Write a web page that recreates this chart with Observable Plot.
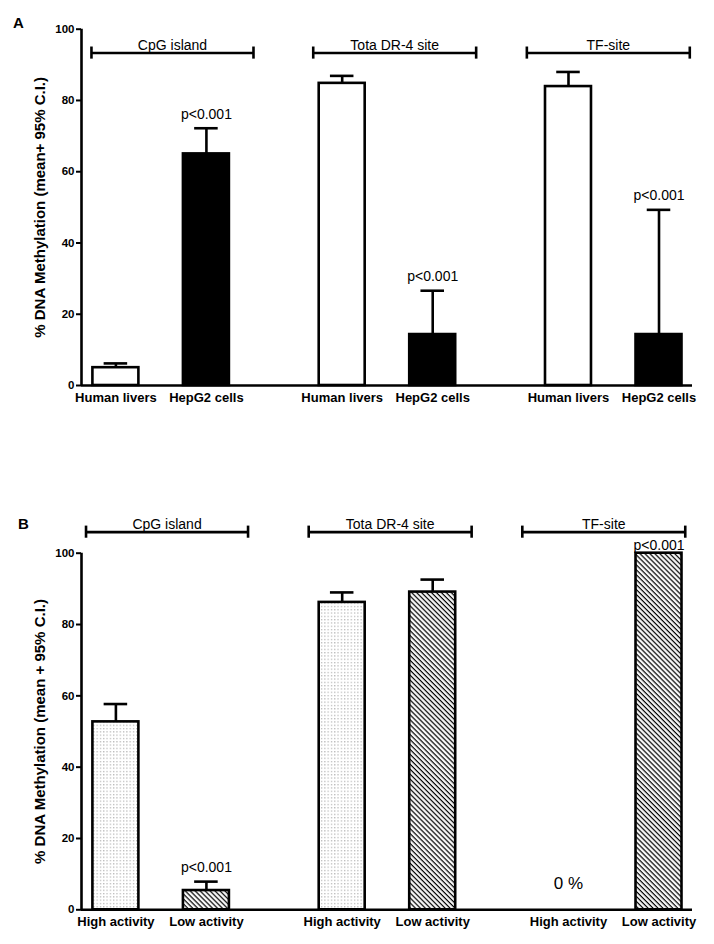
<!DOCTYPE html>
<html>
<head>
<meta charset="utf-8">
<script src="https://cdn.jsdelivr.net/npm/d3@7"></script>
<script src="https://cdn.jsdelivr.net/npm/@observablehq/plot@0.6"></script>
<style>
  body { margin: 0; background: #fff; font-family: "Liberation Sans", Arial, sans-serif; }
  #wrap { position: relative; width: 714px; height: 944px; overflow: hidden; }
  .panel { position: absolute; left: 0; }
  .letter { position: absolute; font-weight: bold; font-size: 15px; line-height: 1; color: #000; }
</style>
</head>
<body>
<div id="wrap">
  <div id="panelA" class="panel" style="top:0"></div>
  <div id="panelB" class="panel" style="top:440px"></div>
  <div class="letter" style="left:13px;top:15px">A</div>
  <div class="letter" style="left:18px;top:516px">B</div>
</div>
<script>
// ---------- Data ----------
const sites = ["CpG island", "Tota DR-4 site", "TF-site"];

// Panel A
const groupsA = ["Human livers", "HepG2 cells"];
const liversMean = [5.0, 84.8, 83.9];
const liversUpper = [6.2, 86.9, 88.0];
const hepg2Mean = [65.0, 14.3, 14.3];
const hepg2Upper = [72.2, 26.6, 49.3];
const hepg2P = ["p<0.001", "p<0.001", "p<0.001"];
const bracketLevelA = 93.3;
const bracketStartA = [-0.27, 2.18, 4.54];
const bracketEndA = [1.52, 3.98, 6.34];
const yLabelA = "% DNA Methylation (mean+ 95% C.I.)";

// Panel B
const groupsB = ["High activity", "Low activity"];
const highMean = [52.7, 86.2, 0];
const highUpper = [57.7, 89.0, null];
const lowMean = [5.4, 89.1, 100];
const lowUpper = [7.9, 92.6, null];
const lowP = ["p<0.001", null, "p<0.001"];
const highNote = [null, null, "0 %"];
const bracketLevelB = 105.9;
const bracketStartB = [-0.33, 2.13, 4.49];
const bracketEndB = [1.46, 3.93, 6.29];
const yLabelB = "% DNA Methylation (mean + 95% C.I.)";

const yTicks = [0, 20, 40, 60, 80, 100];

// ---------- Layout helpers ----------
const groupStep = 2.5;           // spacing of site groups in x units
const halfBar = 0.254;           // half bar width in x units
const halfCap = 0.13;            // half error-cap width
const capHalfY = 1.7;            // half bracket end-cap height (y units)
const xDomain = [-0.38, 6.37];
const FONT = "Liberation Sans, Arial, sans-serif";

function buildRows(groups, means, uppers) {
  return sites.flatMap((site, g) => groups.map((grp, i) => ({
    site, grp, gi: i, pos: g * groupStep + i,
    mean: means[i][g], upper: uppers[i][g]
  })));
}

function brackets(starts, ends, level) {
  return sites.map((site, g) => ({site, start: starts[g], end: ends[g], mid: (starts[g] + ends[g]) / 2, level}));
}

function defsPatterns(svg) {
  const defs = d3.select(svg).insert("defs", ":first-child");
  const dots = defs.append("pattern").attr("id", "dotsB").attr("patternUnits", "userSpaceOnUse")
    .attr("width", 3.3).attr("height", 3.3);
  dots.append("rect").attr("width", 3.3).attr("height", 3.3).attr("fill", "#fff");
  dots.append("rect").attr("x", 1).attr("y", 1).attr("width", 1).attr("height", 1).attr("fill", "#8c8c8c");
  const hatch = defs.append("pattern").attr("id", "hatchB").attr("patternUnits", "userSpaceOnUse")
    .attr("width", 3.5).attr("height", 3.5).attr("patternTransform", "rotate(-45)");
  hatch.append("rect").attr("width", 3.5).attr("height", 3.5).attr("fill", "#fff");
  hatch.append("line").attr("x1", 1.2).attr("y1", 0).attr("x2", 1.2).attr("y2", 3.5)
    .attr("stroke", "#000").attr("stroke-width", 1.25);
}

function panel({rows, groups, fills, yLabel, bl, pRows, noteRows, height, marginTop, marginBottom}) {
  const labelByPos = new Map(rows.map(d => [d.pos, d.grp]));
  const bars = rows.filter(d => d.mean > 0);
  const withErr = rows.filter(d => d.upper != null);
  const ends = bl.flatMap(b => [{x: b.start, level: b.level}, {x: b.end, level: b.level}]);
  return Plot.plot({
    width: 714, height, marginLeft: 81, marginRight: 22, marginTop, marginBottom,
    style: {fontFamily: FONT, color: "#000", background: "#fff", overflow: "visible"},
    x: {type: "linear", domain: xDomain},
    y: {domain: [0, 100]},
    marks: [
      ...groups.map((grp, i) => Plot.rectY(bars.filter(d => d.gi === i), {
        x1: d => d.pos - halfBar, x2: d => d.pos + halfBar, y1: 0, y2: "mean",
        fill: fills[i], stroke: "#000", strokeWidth: 2.6
      })),
      Plot.ruleX(withErr, {x: "pos", y1: "mean", y2: "upper", strokeWidth: 2.6}),
      Plot.ruleY(withErr, {y: "upper", x1: d => d.pos - halfCap, x2: d => d.pos + halfCap, strokeWidth: 2.6}),
      Plot.ruleY([0], {strokeWidth: 2.6}),
      Plot.ruleX([xDomain[0]], {y1: 0, y2: 100, strokeWidth: 2.6}),
      Plot.axisY({ticks: yTicks, tickSize: 5, tickPadding: 2, strokeWidth: 2, label: null,
        fontWeight: "bold", fontSize: 11.5}),
      Plot.text([yLabel], {text: d => d, frameAnchor: "left", textAnchor: "middle", lineAnchor: "middle",
        rotate: -90, dx: -41, fontWeight: "bold", fontSize: 15}),
      Plot.axisX({ticks: rows.map(d => d.pos), tickFormat: v => labelByPos.get(v), tickSize: 0,
        tickPadding: 7, label: null, fontWeight: "bold", fontSize: 13}),
      Plot.ruleY(bl, {y: "level", x1: "start", x2: "end", strokeWidth: 2.6}),
      Plot.ruleX(ends, {x: "x", y1: d => d.level - capHalfY, y2: d => d.level + capHalfY, strokeWidth: 2.6}),
      Plot.text(bl, {x: "mid", y: "level", text: "site", dy: -7.5, fontSize: 14}),
      Plot.text(pRows.filter(d => d.upper != null), {x: "pos", y: "upper", text: "p", dy: -14, fontSize: 14}),
      Plot.text(pRows.filter(d => d.upper == null), {x: "pos", y: "mean", text: "p", dy: -8, fontSize: 14}),
      Plot.text(noteRows, {x: "pos", y: 0, text: "note", dy: -26, fontSize: 17})
    ]
  });
}

// ---------- Panel A ----------
const rowsA = buildRows(groupsA, [liversMean, hepg2Mean], [liversUpper, hepg2Upper]);
const pRowsA = rowsA.filter(d => d.gi === 1).map((d, g) => ({...d, p: hepg2P[g]}));
const plotA = panel({
  rows: rowsA, groups: groupsA, fills: ["#fff", "#000"], yLabel: yLabelA,
  bl: brackets(bracketStartA, bracketEndA, bracketLevelA),
  pRows: pRowsA, noteRows: [],
  height: 440, marginTop: 28.7, marginBottom: 55
});
document.getElementById("panelA").append(plotA);

// ---------- Panel B ----------
const rowsB = buildRows(groupsB, [highMean, lowMean], [highUpper, lowUpper]);
const pRowsB = rowsB.filter(d => d.gi === 1).map((d, g) => ({...d, p: lowP[g]})).filter(d => d.p);
const noteRowsB = rowsB.filter(d => d.gi === 0).map((d, g) => ({...d, note: highNote[g]})).filter(d => d.note);
const plotB = panel({
  rows: rowsB, groups: groupsB, fills: ["url(#dotsB)", "url(#hatchB)"], yLabel: yLabelB,
  bl: brackets(bracketStartB, bracketEndB, bracketLevelB),
  pRows: pRowsB, noteRows: noteRowsB,
  height: 504, marginTop: 112.7, marginBottom: 34.7
});
defsPatterns(plotB);
document.getElementById("panelB").append(plotB);
</script>
</body>
</html>
